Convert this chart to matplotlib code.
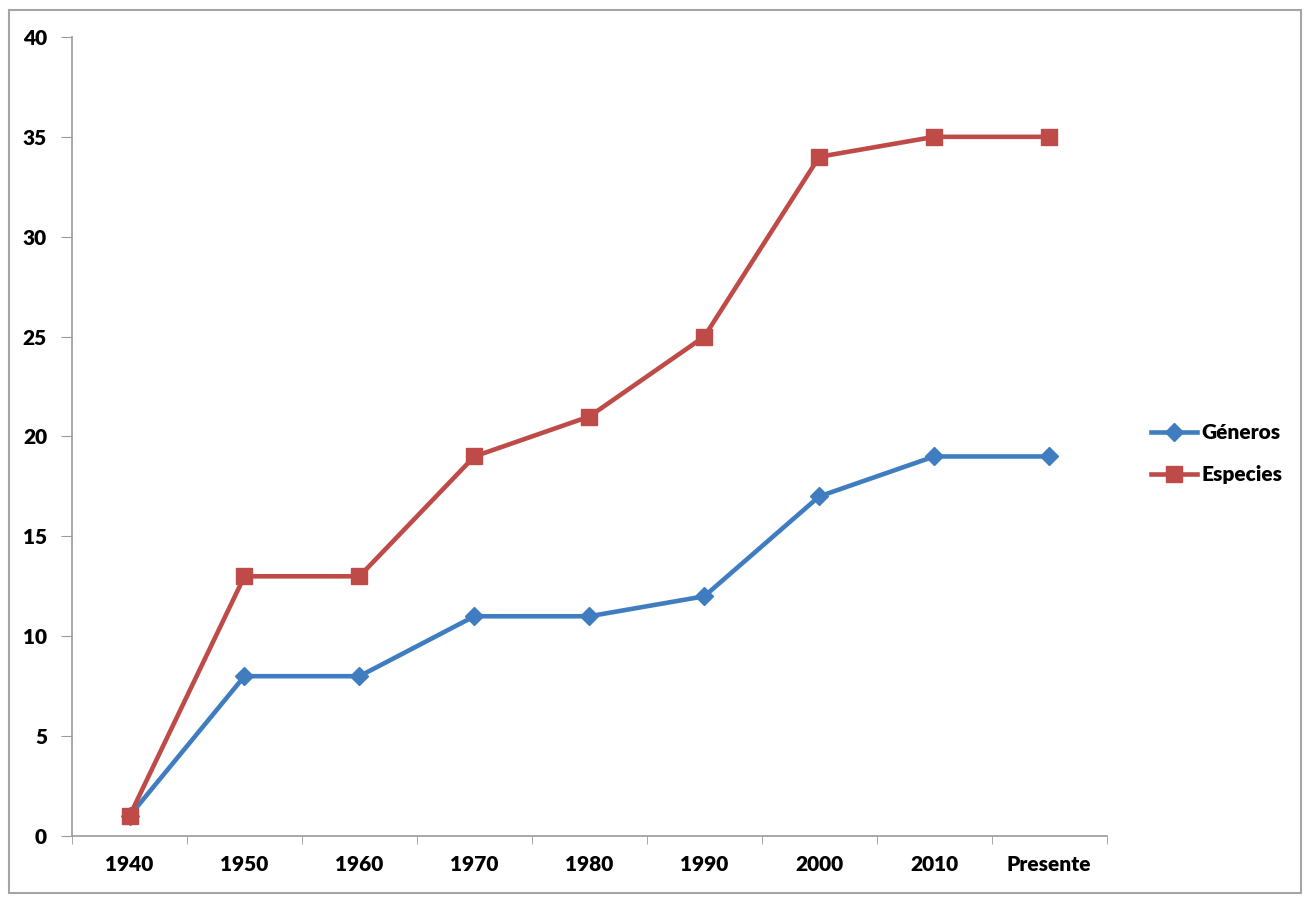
import matplotlib.pyplot as plt
from matplotlib.patches import Rectangle

# data
periodos = ['1940', '1950', '1960', '1970', '1980', '1990', '2000', '2010', 'Presente']
generos = [1, 8, 8, 11, 11, 12, 17, 19, 19]
especies = [1, 13, 13, 19, 21, 25, 34, 35, 35]

plt.rcParams['font.family'] = ['Lato', 'DejaVu Sans']
plt.rcParams['font.weight'] = 'heavy'

fig = plt.figure(figsize=(13.05, 8.97), dpi=100)
ax = fig.add_axes([0.0552, 0.068, 0.7928, 0.8908])

x = list(range(len(periodos)))
ax.plot(x, generos, color='#3F7DC0', lw=3.3, marker='D', ms=9, label='Géneros', zorder=3)
ax.plot(x, especies, color='#BE4B48', lw=3.3, marker='s', ms=12, label='Especies', zorder=3)

ax.set_xlim(-0.5, len(periodos) - 0.5)
ax.set_ylim(0, 40)
ax.set_yticks(range(0, 41, 5))
ax.set_xticks(x)
ax.set_xticklabels(periodos)
ax.set_xticks([i + 0.5 for i in range(-1, len(periodos))], minor=True)
ax.tick_params(axis='x', which='major', length=0, pad=14, labelsize=15)
ax.tick_params(axis='x', which='minor', length=6, color='#A09898')
ax.tick_params(axis='y', length=8, color='#A09898', labelsize=15, pad=10)
for lab in ax.get_xticklabels() + ax.get_yticklabels():
    lab.set_fontweight('heavy')

for s in ['top', 'right']:
    ax.spines[s].set_visible(False)
for s in ['left', 'bottom']:
    ax.spines[s].set_color('#A09898')
    ax.spines[s].set_linewidth(1.2)

leg = fig.legend(loc='center left', bbox_to_anchor=(0.868, 0.494), frameon=False,
                 fontsize=15, handlelength=2.2, labelspacing=1.1, handletextpad=0.2)
for t in leg.get_texts():
    t.set_fontweight('heavy')

fig.patches.append(Rectangle((0.007, 0.004), 0.99, 0.985, transform=fig.transFigure,
                             fill=False, edgecolor='#A8A4A4', lw=1.5))

fig.savefig('out.png', dpi=100)
